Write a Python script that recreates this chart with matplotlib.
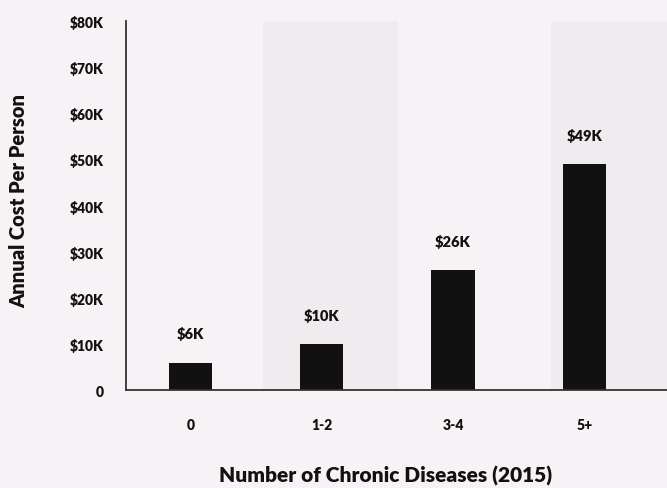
import matplotlib.pyplot as plt
from matplotlib.ticker import FuncFormatter

# annual cost per person by number of chronic diseases (2015), in $K
groups = ["0", "1-2", "3-4", "5+"]
cost_k = [6, 10, 26, 49]
bar_labels = ["$6K", "$10K", "$26K", "$49K"]

plt.rcParams['font.family'] = ['Lato', 'DejaVu Sans']

fig = plt.figure(figsize=(6.67, 4.89), dpi=100, facecolor='#f6f2f5')
ax = fig.add_axes([0.189, 0.2, 0.811, 0.755])
ax.set_facecolor('#f6f2f5')

# faint shaded bands behind the bars
ax.axvspan(0.55, 1.58, color='#efebee', zorder=0, lw=0)
ax.axvspan(2.75, 3.7, color='#efebee', zorder=0, lw=0)

x = range(len(groups))
bars = ax.bar(x, cost_k, width=0.33, color='#111111', zorder=2)
for b, lab in zip(bars, bar_labels):
    ax.annotate(lab, (b.get_x() + b.get_width() / 2, b.get_height()),
                xytext=(0, 21), textcoords='offset points', ha='center', va='center',
                fontsize=10.5, fontweight='heavy', color='#111111')

ax.set_xlim(-0.49, 3.63)
ax.set_ylim(0, 80)
ax.set_yticks(range(0, 81, 10))
ax.yaxis.set_major_formatter(FuncFormatter(lambda v, p: "0" if v == 0 else f"${int(v)}K"))
ax.set_xticks(list(x))
ax.set_xticklabels(groups)
ax.tick_params(length=0, labelsize=10, colors='#111111')
for t in ax.get_xticklabels() + ax.get_yticklabels():
    t.set_fontweight('heavy')
ax.tick_params(axis='x', pad=20)
ax.tick_params(axis='y', pad=16)

for s in ['top', 'right']:
    ax.spines[s].set_visible(False)
for s in ['left', 'bottom']:
    ax.spines[s].set_color('#333333')
    ax.spines[s].set_linewidth(1.3)

ax.set_ylabel("Annual Cost Per Person", fontsize=14.5, fontweight='heavy', color='#111111')
ax.yaxis.set_label_coords(-0.18, 0.515)
ax.set_xlabel("Number of Chronic Diseases (2015)", fontsize=15, fontweight='heavy', color='#111111')
ax.xaxis.set_label_coords(0.48, -0.203)

fig.savefig("out.png", dpi=100, facecolor=fig.get_facecolor())
